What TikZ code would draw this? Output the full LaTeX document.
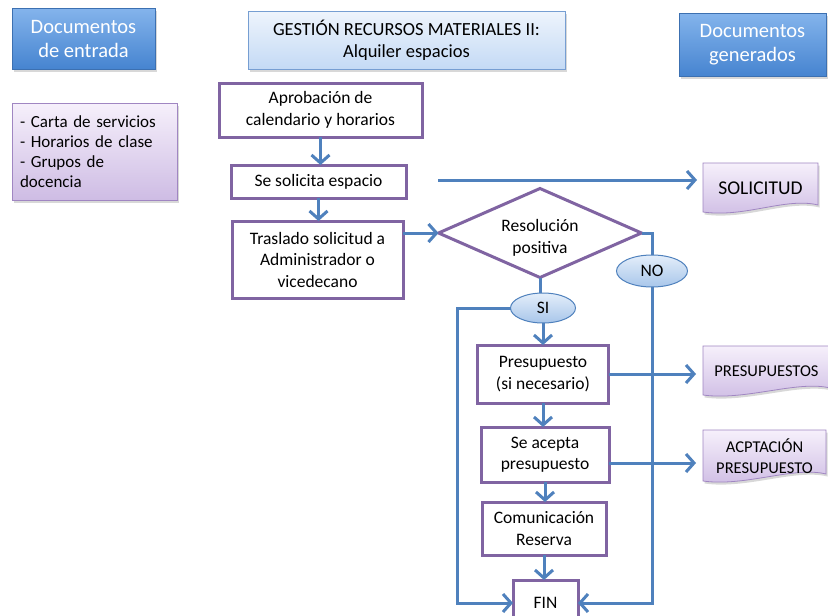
\documentclass[tikz,border=0pt]{standalone}
\usepackage{fontspec}
\setmainfont{Carlito}
\usetikzlibrary{arrows.meta,shapes.geometric,shadows,backgrounds,calc}

\definecolor{flowblue}{RGB}{79,129,189}
\definecolor{boxpurple}{RGB}{128,100,162}
\definecolor{hdrtop}{RGB}{132,180,236}
\definecolor{hdrbot}{RGB}{70,132,208}
\definecolor{ttltop}{RGB}{238,244,252}
\definecolor{ttlbot}{RGB}{196,218,245}
\definecolor{ttlborder}{RGB}{118,158,210}
\definecolor{purtop}{RGB}{246,240,251}
\definecolor{purbot}{RGB}{206,188,228}
\definecolor{purborder}{RGB}{160,134,194}
\definecolor{elltop}{RGB}{228,238,250}
\definecolor{ellbot}{RGB}{168,198,234}

\tikzset{
  x=1pt, y=-1pt,
  shadowed/.style={drop shadow={opacity=0.3, shadow xshift=1.5pt, shadow yshift=-2.5pt}},
  hdr/.style={draw=hdrbot!85!black, line width=0.7pt, top color=hdrtop, bottom color=hdrbot,
    text=white, font=\fontsize{20.5}{24}\selectfont, align=center, inner sep=0pt, outer sep=0pt, shadowed},
  ttl/.style={draw=ttlborder, line width=0.8pt, top color=ttltop, bottom color=ttlbot,
    font=\fontsize{18.5}{22}\selectfont, align=center, inner sep=0pt, outer sep=0pt, shadowed},
  inbox/.style={draw=purborder, line width=0.8pt, top color=purtop, bottom color=purbot,
    font=\fontsize{17}{20}\selectfont, align=left, inner xsep=8pt, inner ysep=0pt, outer sep=0pt, shadowed},
  stepbox/.style={draw=boxpurple, line width=3pt, fill=white, font=\fontsize{17.5}{21.5}\selectfont,
    align=center, inner sep=0pt, outer sep=0pt},
  decision/.style={diamond, aspect=2.28, draw=boxpurple, line width=3pt, fill=white,
    inner sep=0pt, outer sep=0pt},
  dectext/.style={font=\fontsize{17.5}{21.5}\selectfont, align=center, inner sep=0pt},
  answer/.style={ellipse, draw=flowblue, line width=1pt, top color=elltop, bottom color=ellbot,
    font=\fontsize{17.5}{20}\selectfont, inner sep=0pt, outer sep=0pt},
  doctext/.style={font=\fontsize{16.5}{21}\selectfont, align=center, inner sep=0pt, outer sep=0pt},
  docshape/.style={draw=purborder, line width=0.8pt, top color=purtop, bottom color=purbot, shadowed},
  conn/.style={draw=flowblue, line width=3pt},
  arr/.style={conn, -{Straight Barb[length=8pt,width=18pt]}},
}

\newcommand{\docoutline}[1]{%
  \path[docshape] (#1.north west) -- (#1.north east) -- ([yshift=8pt]#1.south east)
    .. controls ([xshift=-32pt,yshift=16pt]#1.south east) and ([xshift=42pt,yshift=-5pt]#1.south west)
    .. ([yshift=1pt]#1.south west) -- cycle;}

\begin{document}
\begin{tikzpicture}
\useasboundingbox (0,0) rectangle (828,616);

% headers
\node[hdr, minimum width=143pt, minimum height=61pt] (entrada) at (83.5,38.5) {Documentos\\de entrada};
\node[ttl, minimum width=317pt, minimum height=58pt] (titulo) at (406.5,40) {GESTIÓN RECURSOS MATERIALES II:\\Alquiler espacios};
\node[hdr, minimum width=147pt, minimum height=63pt] (generados) at (752.5,44.5) {Documentos\\generados};

% input documents
\node[inbox, minimum width=165pt, minimum height=97pt, text width=149pt] (inputs) at (94.5,151.5)
  {- Carta de servicios\\- Horarios de clase\\- Grupos de\\docencia};

% process steps
\node[stepbox, minimum width=203pt, minimum height=54pt] (aprob) at (320.5,110) {Aprobación de\\calendario y horarios};
\node[stepbox, minimum width=175pt, minimum height=33pt] (solic) at (318.5,181.5) {Se solicita espacio};
\node[stepbox, minimum width=171pt, minimum height=77pt] (trasl) at (317.5,259.5) {Traslado solicitud a\\Administrador o\\vicedecano};
\node[decision, minimum width=203pt, minimum height=89pt] (dia) at (540,233) {};
\node[dectext] (diatext) at (540,238) {Resolución\\positiva};
\node[answer, minimum width=71pt, minimum height=32pt] (no) at (652,271) {NO};
\node[answer, minimum width=65pt, minimum height=30pt] (si) at (543,308) {SI};
\node[stepbox, minimum width=131pt, minimum height=58pt] (presup) at (543,374) {Presupuesto\\(si necesario)};
\node[stepbox, minimum width=128pt, minimum height=55pt] (acepta) at (545,454.5) {Se acepta\\presupuesto};
\node[stepbox, minimum width=124pt, minimum height=53pt] (comun) at (544,528.5) {Comunicación\\Reserva};
\node[stepbox, minimum width=65pt, minimum height=46pt] (fin) at (545.5,603) {FIN};

% generated documents
\node[doctext, font=\fontsize{19.5}{23}\selectfont, minimum width=115pt, minimum height=50pt] (soldoc) at (760.5,188) {SOLICITUD};
\node[doctext, minimum width=127pt, minimum height=50pt] (presdoc) at (766.5,371) {PRESUPUESTOS};
\node[doctext, minimum width=123pt, minimum height=52pt] (acdoc) at (764.5,456) {ACPTACIÓN\\PRESUPUESTO};
\begin{scope}[on background layer]
  \fill[white] (0,0) rectangle (828,616);
  \docoutline{soldoc}
  \docoutline{presdoc}
  \docoutline{acdoc}
\end{scope}

% helper coordinates
\coordinate (sa) at (438,180);
\coordinate (lx) at (457,0);
\coordinate (acy) at (0,463);

% connectors
\draw[arr] (aprob.south) -- (aprob.south |- solic.north);
\draw[arr] (solic.south) -- (solic.south |- trasl.north);
\draw[arr] (trasl.east |- dia.west) -- (dia.west);
\draw[arr, shorten >=6pt] (sa) -- (sa -| soldoc.west);
\draw[conn] (dia.south) -- (dia.south |- si.north);
\draw[arr] (si.south) -- (si.south |- presup.north);
\draw[arr] (presup.south) -- (presup.south |- acepta.north);
\draw[arr] (acepta.south) -- (acepta.south |- comun.north);
\draw[arr] (comun.south) -- (comun.south |- fin.north);
\draw[conn] (dia.east) -- (dia.east -| no.north) -- (no.north);
\draw[arr] (no.south) -- (no.south |- fin.east) -- (fin.east);
\draw[arr] (si.west) -- (si.west -| lx) -- (lx |- fin.west) -- (fin.west);
\draw[arr, shorten >=7pt] (presup.east) -- (presup.east -| presdoc.west);
\draw[arr, shorten >=7pt] (acepta.east |- acy) -- (acdoc.west |- acy);
\end{tikzpicture}
\end{document}
